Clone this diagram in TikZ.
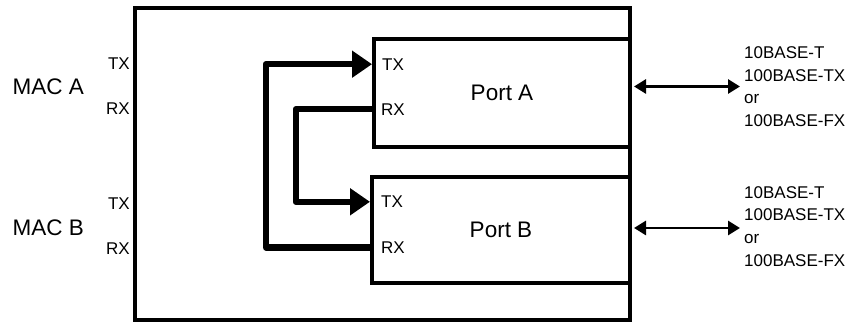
\documentclass[tikz,border=0pt]{standalone}
\usepackage{fontspec}
\setmainfont{Liberation Sans}
\usetikzlibrary{positioning,arrows.meta,calc}
\tikzset{
  caja/.style={draw=black,line width=4pt,inner sep=0pt},
  enlace/.style={line width=6.5pt,line join=round,-{Triangle[length=20pt,width=26pt]}},
  medio/.style={line width=2.8pt,{Triangle[length=12pt,width=14pt]}-{Triangle[length=12pt,width=14pt]},shorten <=2pt,shorten >=4pt},
  senal/.style={font=\fontsize{17}{20}\selectfont,inner sep=0pt},
  etiqueta/.style={font=\fontsize{17}{22.6}\selectfont,inner sep=0pt,align=left,anchor=west},
}
\begin{document}
\begin{tikzpicture}[x=1pt,y=1pt,
  puerto/.style={caja,font=\fontsize{22.5}{27}\selectfont},
  mac/.style={font=\fontsize{22.5}{27}\selectfont,inner sep=0pt,anchor=west}]
  \useasboundingbox (0,0) rectangle (848,323);
  % chip y puertos
  \node[caja,minimum width=495pt,minimum height=312.5pt] (chip) at (382.6,159.2) {};
  \node[puerto,minimum width=256pt,minimum height=108pt] (portA) at (502,229.7) {Port A};
  \node[puerto,minimum width=258pt,minimum height=106pt] (portB) at (501,92.7) {Port B};
  % MAC
  \node[mac] (macA) at (12.5,236) {MAC A};
  \node[mac] (macB) at (12.5,95.3) {MAC B};
  \node[senal,anchor=east] (matx) at (130,259) {TX};
  \node[senal,anchor=east] (marx) at (130,214.7) {RX};
  \node[senal,anchor=east] (mbtx) at (130,119) {TX};
  \node[senal,anchor=east] (mbrx) at (130,74.7) {RX};
  % senales de los puertos
  \node[senal,anchor=west] (atx) at (382,258.8) {TX};
  \node[senal,anchor=west] (arx) at (381,213.8) {RX};
  \node[senal,anchor=west] (btx) at (381,121.2) {TX};
  \node[senal,anchor=west] (brx) at (381,75.5) {RX};
  \draw[enlace] (portB.west |- brx) -- ++(-104,0) |- (portA.west |- atx);
  \draw[enlace] (portA.west |- arx) -- ++(-76,0) |- (portB.west |- btx);
  % medios
  \node[etiqueta] (medA) at (744,236.5) {10BASE-T\\100BASE-TX\\or\\100BASE-FX};
  \node[etiqueta] (medB) at (744,96.7) {10BASE-T\\100BASE-TX\\or\\100BASE-FX};
  \draw[medio] (portA.east |- medA.west) -- (medA.west);
  \draw[medio] (portB.east |- 0,95) -- (medB.west |- 0,95);
\end{tikzpicture}
\end{document}
